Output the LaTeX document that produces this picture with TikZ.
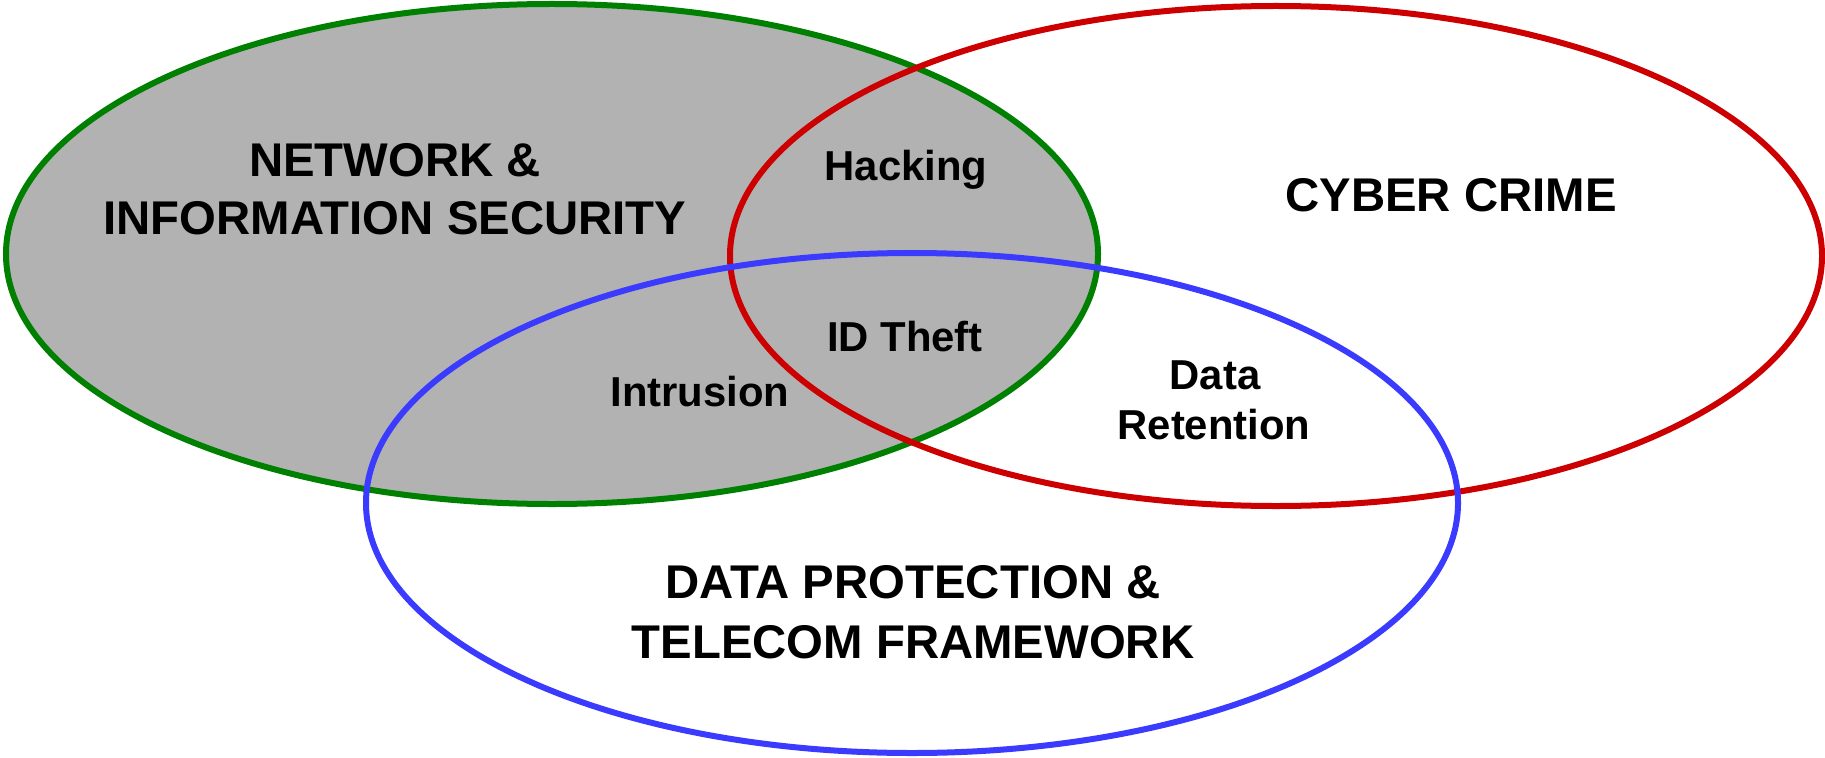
\documentclass[tikz,border=0pt]{standalone}
\usepackage{fontspec}
\setmainfont{Liberation Sans}
\usetikzlibrary{shapes.geometric}
\definecolor{vgreen}{RGB}{0,128,0}
\definecolor{vred}{RGB}{204,0,0}
\definecolor{vblue}{RGB}{59,59,255}
\definecolor{vgrey}{RGB}{178,178,178}
\begin{document}
\begin{tikzpicture}[x=1bp,y=-1bp,
  setring/.style={ellipse, minimum width=1092bp, minimum height=500bp, inner sep=0pt, outer sep=0pt, line width=6bp},
  biglabel/.style={anchor=base, inner sep=0pt, font=\fontsize{47.5}{58}\selectfont\bfseries},
  smalllabel/.style={anchor=base, inner sep=0pt, font=\fontsize{42}{50}\selectfont\bfseries}]
\useasboundingbox (0,0) rectangle (1825,758);
\node[setring, fill=vgrey, draw=vgreen] (nis) at (552,254) {};
\node[setring, draw=vred] (cc) at (1276,256) {};
\node[setring, draw=vblue] (dp) at (912,503) {};
\node[biglabel] (nis1) at (395,176) {NETWORK \&};
\node[biglabel] (nis2) at (395,234) {INFORMATION SECURITY};
\node[biglabel] (cct) at (1451,211) {CYBER CRIME};
\node[biglabel] (dp1) at (913,598) {DATA PROTECTION \&};
\node[biglabel] (dp2) at (913,658) {TELECOM FRAMEWORK};
\node[smalllabel] (hack) at (906,180) {Hacking};
\node[smalllabel] (idt) at (905,351) {ID Theft};
\node[smalllabel] (intr) at (700,406) {Intrusion};
\node[smalllabel] (dr1) at (1215,389) {Data};
\node[smalllabel] (dr2) at (1214,439) {Retention};
\end{tikzpicture}
\end{document}
